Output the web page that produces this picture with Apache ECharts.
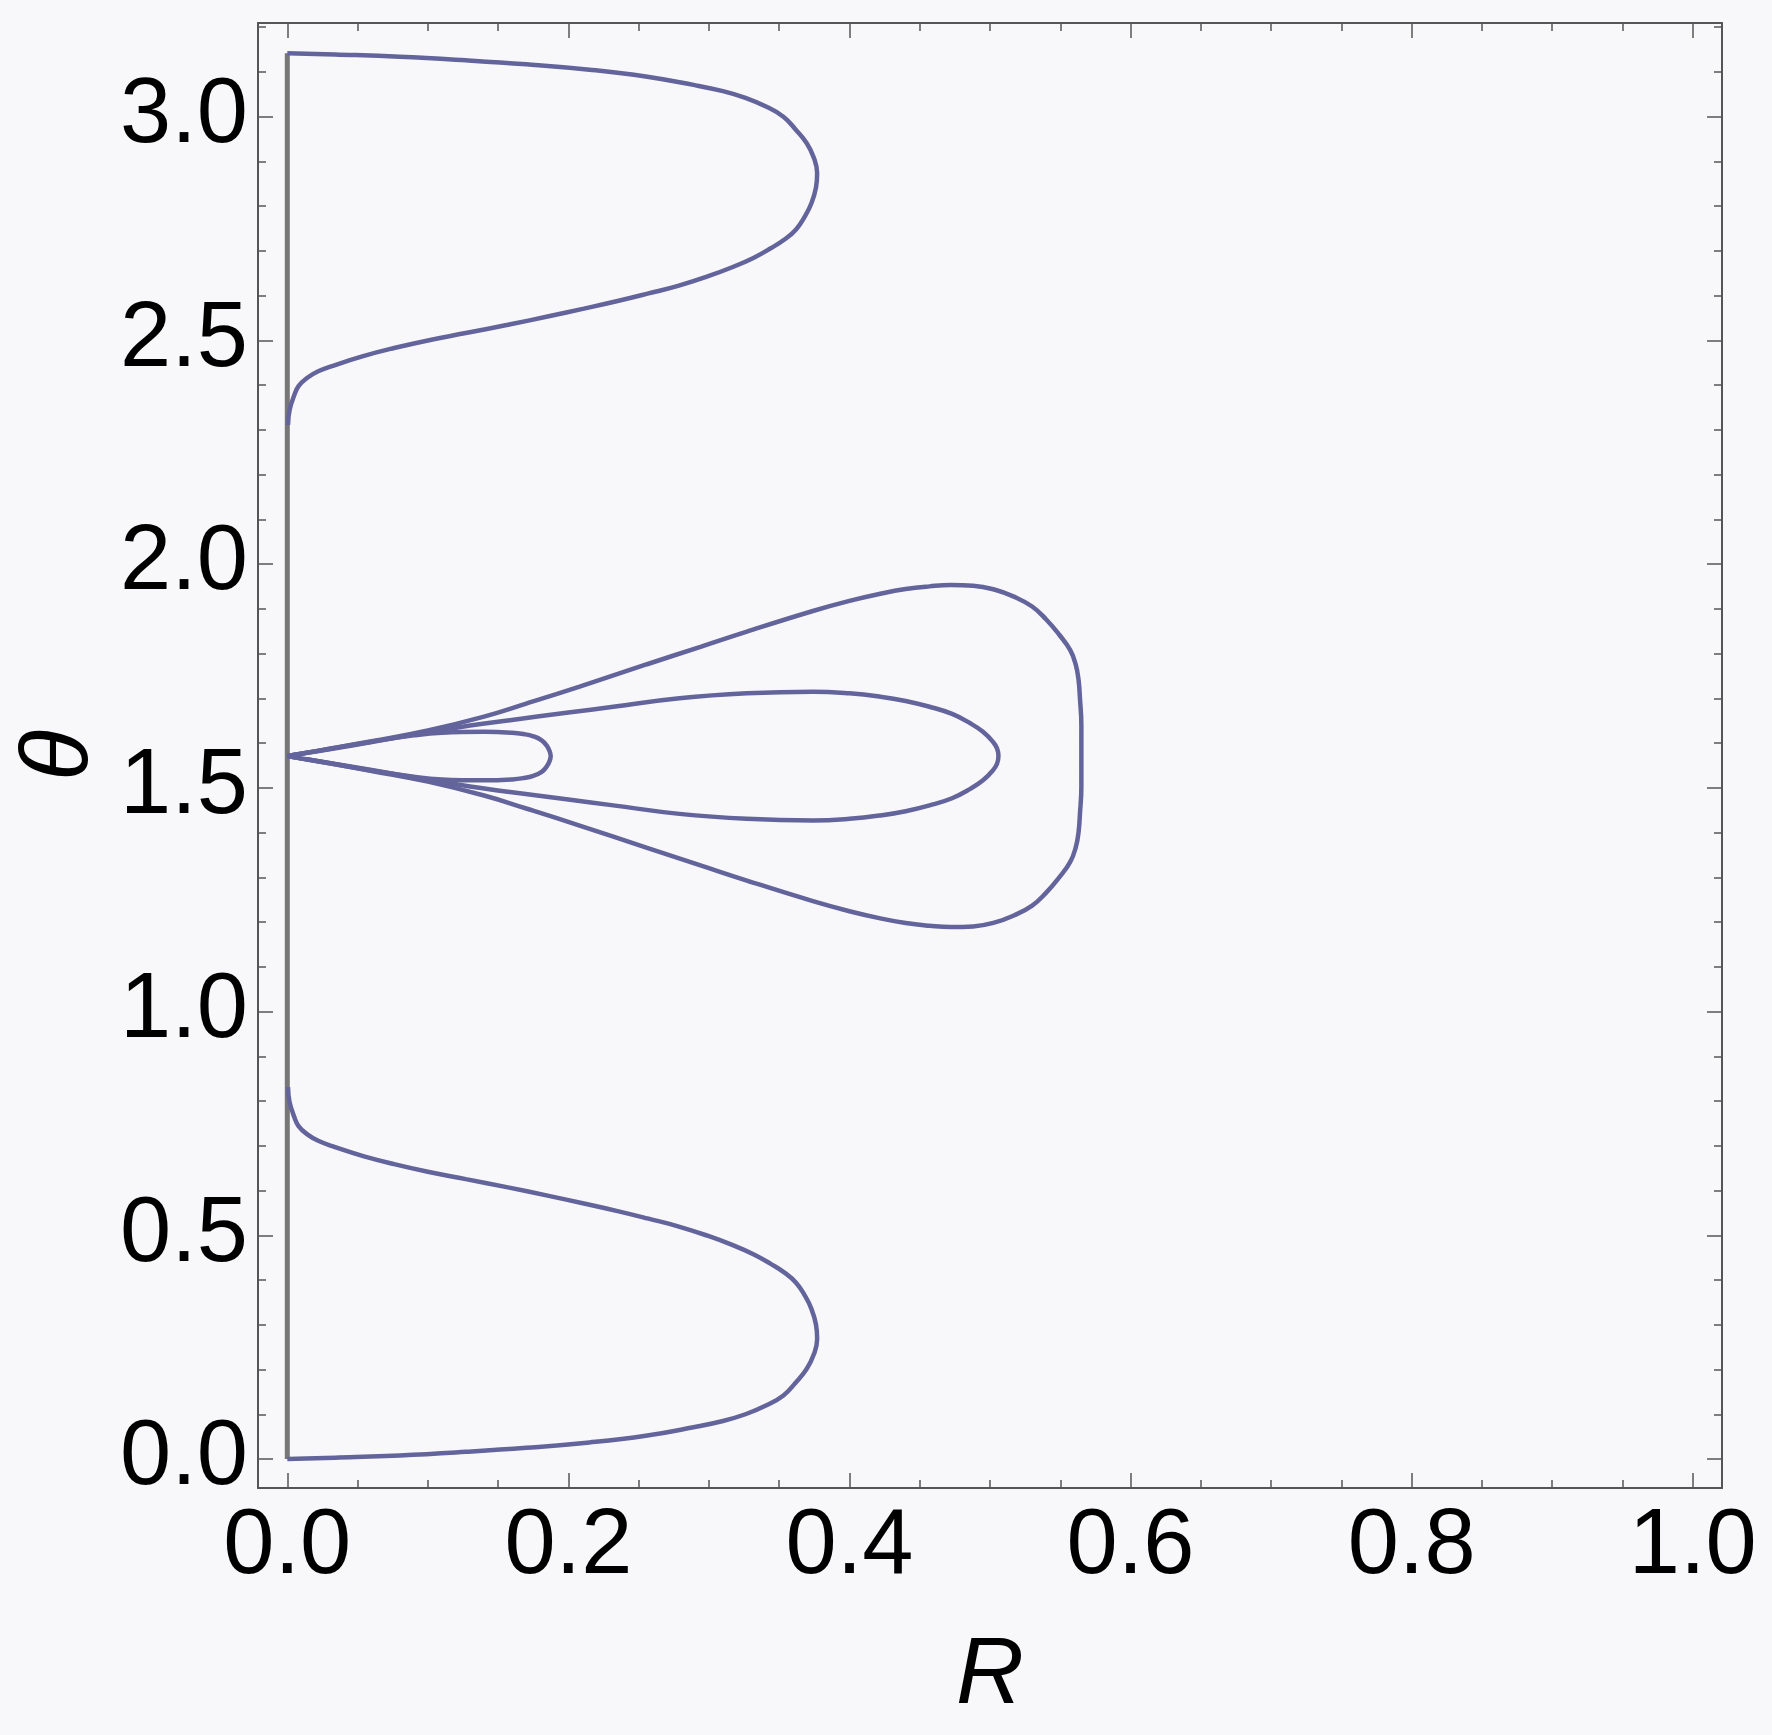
<!DOCTYPE html>
<html>
<head>
<meta charset="utf-8">
<script src="https://cdn.jsdelivr.net/npm/echarts@6/dist/echarts.min.js"></script>
<style>
html,body{margin:0;padding:0;background:#f8f8fa;}
#chart{width:1772px;height:1735px;}
</style>
</head>
<body>
<div id="chart"></div>
<script>
// ---------------- data ----------------
const X_TICK_LABELS = ['0.0','0.2','0.4','0.6','0.8','1.0'];
const Y_TICK_LABELS = ['0.0','0.5','1.0','1.5','2.0','2.5','3.0'];

// vertical contour on R = 0
const R_AXISLINE = [0, 0];
const T_AXISLINE = [0, 3.1416];

// lower lobe
const R_LOW = [0, 0.034, 0.08, 0.127, 0.17, 0.215, 0.255, 0.289, 0.31, 0.326, 0.341, 0.353, 0.3615, 0.3695, 0.3748, 0.377, 0.3762, 0.373, 0.3683, 0.362, 0.354, 0.344, 0.332, 0.317, 0.299, 0.278, 0.257, 0.235, 0.211, 0.186, 0.157, 0.127, 0.10, 0.076, 0.054, 0.034, 0.022, 0.014, 0.008, 0.005, 0.0016, 0.0005];
const T_LOW = [0, 0.003, 0.008, 0.016, 0.025, 0.037, 0.052, 0.071, 0.085, 0.100, 0.12, 0.142, 0.17, 0.201, 0.235, 0.268, 0.30, 0.335, 0.365, 0.394, 0.416, 0.436, 0.457, 0.478, 0.499, 0.520, 0.537, 0.554, 0.571, 0.588, 0.607, 0.6255, 0.642, 0.659, 0.677, 0.697, 0.711, 0.726, 0.744, 0.764, 0.798, 0.831];

// upper lobe
const R_UP = [0, 0.034, 0.08, 0.127, 0.17, 0.215, 0.255, 0.289, 0.31, 0.326, 0.341, 0.353, 0.3615, 0.3695, 0.3748, 0.377, 0.3762, 0.373, 0.3683, 0.362, 0.354, 0.344, 0.332, 0.317, 0.299, 0.278, 0.257, 0.235, 0.211, 0.186, 0.157, 0.127, 0.10, 0.076, 0.054, 0.034, 0.022, 0.014, 0.008, 0.005, 0.0016, 0.0005];
const T_UP = [3.1416, 3.1386, 3.1336, 3.1256, 3.1166, 3.1046, 3.0896, 3.0706, 3.0566, 3.0416, 3.0216, 2.9996, 2.9716, 2.9406, 2.9066, 2.8736, 2.8416, 2.8066, 2.7766, 2.7476, 2.7256, 2.7056, 2.6846, 2.6636, 2.6426, 2.6216, 2.6046, 2.5876, 2.5706, 2.5536, 2.5346, 2.5161, 2.4996, 2.4826, 2.4646, 2.4446, 2.4306, 2.4156, 2.3976, 2.3776, 2.3436, 2.3106];

// outer middle loop
const R_BIG = [0, 0.03, 0.06, 0.10, 0.14, 0.17, 0.208, 0.256, 0.294, 0.327, 0.374, 0.40, 0.422, 0.44, 0.457, 0.472, 0.488, 0.503, 0.517, 0.530, 0.540, 0.549, 0.557, 0.561, 0.563, 0.564, 0.565, 0.565,
               0.565, 0.564, 0.563, 0.561, 0.557, 0.549, 0.540, 0.530, 0.517, 0.503, 0.488, 0.472, 0.457, 0.44, 0.422, 0.40, 0.374, 0.327, 0.294, 0.256, 0.208, 0.17, 0.14, 0.10, 0.06, 0.03, 0];
const T_BIG = [1.5708, 1.587, 1.604, 1.628, 1.659, 1.688, 1.726, 1.776, 1.815, 1.849, 1.895, 1.9175, 1.9335, 1.944, 1.950, 1.953, 1.9515, 1.943, 1.927, 1.905, 1.876, 1.843, 1.808, 1.775, 1.741, 1.70, 1.64, 1.5708,
               1.5016, 1.4416, 1.4006, 1.3666, 1.3336, 1.2986, 1.2656, 1.2366, 1.2146, 1.1986, 1.1901, 1.1886, 1.1916, 1.1976, 1.2081, 1.2241, 1.2466, 1.2926, 1.3266, 1.3656, 1.4156, 1.4536, 1.4826, 1.5136, 1.5376, 1.5546, 1.5708];

// middle loop
const R_MID = [0, 0.03, 0.06, 0.10, 0.13, 0.1585, 0.20, 0.232, 0.279, 0.327, 0.374, 0.40, 0.422, 0.44, 0.457, 0.473, 0.486, 0.495, 0.502, 0.505, 0.506,
               0.505, 0.502, 0.495, 0.486, 0.473, 0.457, 0.44, 0.422, 0.40, 0.374, 0.327, 0.279, 0.232, 0.20, 0.1585, 0.13, 0.10, 0.06, 0.03, 0];
const T_MID = [1.5708, 1.586, 1.602, 1.624, 1.639, 1.651, 1.668, 1.681, 1.700, 1.711, 1.7147, 1.711, 1.7035, 1.694, 1.681, 1.665, 1.644, 1.625, 1.603, 1.588, 1.5708,
               1.5536, 1.5386, 1.5166, 1.4976, 1.4766, 1.4606, 1.4476, 1.4381, 1.4306, 1.4269, 1.4306, 1.4416, 1.4606, 1.4736, 1.4906, 1.5026, 1.5176, 1.5396, 1.5556, 1.5708];

// small inner loop
const R_SMALL = [0, 0.03, 0.06, 0.09, 0.11, 0.14, 0.16, 0.168, 0.175, 0.181, 0.1846, 0.1866, 0.1874,
                 0.1866, 0.1846, 0.181, 0.175, 0.168, 0.16, 0.14, 0.11, 0.09, 0.06, 0.03, 0];
const T_SMALL = [1.5708, 1.587, 1.603, 1.617, 1.623, 1.625, 1.623, 1.620, 1.615, 1.606, 1.594, 1.582, 1.5708,
                 1.5596, 1.5476, 1.5356, 1.5266, 1.5216, 1.5186, 1.5166, 1.5186, 1.5246, 1.5386, 1.5546, 1.5708];

// ---------------- layout ----------------
const FL = 258, FR = 1722, FT = 23, FB = 1488;   // frame
const X0 = 287.3, X1 = 1692.7;                   // pixel of R=0 and R=1
const Y0 = 1459, PY = 447.5;                     // pixel of theta=0, px per unit
const PX = X1 - X0;
const xmin = (FL - X0) / PX, xmax = (FR - X0) / PX;
const ymin = -(FB - Y0) / PY, ymax = (Y0 - FT) / PY;

const FONT = '"Liberation Sans", Arial, Helvetica, sans-serif';
const FRAME = '#555555';
const LINE = '#64649c';

function pts(rs, ts) { return rs.map((r, i) => [r, ts[i]]); }

const frameLine = {show: true, onZero: false, lineStyle: {color: FRAME, width: 2}};
const tickStyle = {color: FRAME, width: 1.5};
const labelStyle = {color: '#000', fontSize: 92, fontFamily: FONT};
const nameStyle = {color: '#000', fontSize: 94, fontStyle: 'italic', fontFamily: FONT};

const chart = echarts.init(document.getElementById('chart'), null, {renderer: 'canvas'});

const curve = (rs, ts) => ({type: 'line', xAxisIndex: 0, yAxisIndex: 0, data: pts(rs, ts), symbol: 'none',
  smooth: 0.45, lineStyle: {color: LINE, width: 4.5}, silent: true});

const option = {
  backgroundColor: '#f8f8fa',
  animation: false,
  grid: [
    {left: FL, top: FT, width: FR - FL, height: FB - FT},
    {left: X0, top: Y0 - 3 * PY, width: PX, height: 3 * PY},
    {left: X0, top: Y0 - 3.2 * PY, width: PX, height: 3.2 * PY}
  ],
  xAxis: [
    {gridIndex: 0, type: 'value', min: xmin, max: xmax, position: 'bottom',
     axisLine: frameLine, axisTick: {show: false}, axisLabel: {show: false}, splitLine: {show: false},
     name: 'R', nameLocation: 'middle', nameGap: 142, nameTextStyle: nameStyle},
    {gridIndex: 0, type: 'value', min: xmin, max: xmax, position: 'top',
     axisLine: frameLine, axisTick: {show: false}, axisLabel: {show: false}, splitLine: {show: false}},
    {gridIndex: 1, type: 'value', min: 0, max: 1, interval: 0.2, position: 'bottom', offset: FB - Y0,
     axisLine: {show: false, onZero: false},
     axisTick: {show: true, inside: true, length: 15, lineStyle: tickStyle},
     minorTick: {show: true, splitNumber: 4, length: 8, lineStyle: tickStyle},
     axisLabel: Object.assign({show: true, margin: 14, formatter: v => X_TICK_LABELS[Math.round(v / 0.2)]}, labelStyle),
     splitLine: {show: false}, minorSplitLine: {show: false}},
    {gridIndex: 1, type: 'value', min: 0, max: 1, interval: 0.2, position: 'top', offset: (Y0 - 3 * PY) - FT,
     axisLine: {show: false, onZero: false},
     axisTick: {show: true, inside: true, length: 15, lineStyle: tickStyle},
     minorTick: {show: true, splitNumber: 4, length: 8, lineStyle: tickStyle},
     axisLabel: {show: false}, splitLine: {show: false}, minorSplitLine: {show: false}},
    {gridIndex: 2, type: 'value', min: 0, max: 1, show: false}
  ],
  yAxis: [
    {gridIndex: 0, type: 'value', min: ymin, max: ymax, position: 'left',
     axisLine: frameLine, axisTick: {show: false}, axisLabel: {show: false}, splitLine: {show: false},
     name: '\u03B8', nameLocation: 'middle', nameGap: 150, nameRotate: 90, nameTextStyle: nameStyle},
    {gridIndex: 0, type: 'value', min: ymin, max: ymax, position: 'right',
     axisLine: frameLine, axisTick: {show: false}, axisLabel: {show: false}, splitLine: {show: false}},
    {gridIndex: 1, type: 'value', min: 0, max: 3, interval: 0.5, position: 'left', offset: X0 - FL,
     axisLine: {show: false, onZero: false},
     axisTick: {show: true, inside: true, length: 15, lineStyle: tickStyle},
     axisLabel: Object.assign({show: true, margin: 10, formatter: v => Y_TICK_LABELS[Math.round(v / 0.5)]}, labelStyle),
     splitLine: {show: false}},
    {gridIndex: 1, type: 'value', min: 0, max: 3, interval: 0.5, position: 'right', offset: FR - X1,
     axisLine: {show: false, onZero: false},
     axisTick: {show: true, inside: true, length: 15, lineStyle: tickStyle},
     axisLabel: {show: false}, splitLine: {show: false}},
    {gridIndex: 2, type: 'value', min: 0, max: 3.2, interval: 0.1, position: 'left', offset: X0 - FL,
     axisLine: {show: false, onZero: false},
     axisTick: {show: true, inside: true, length: 8, lineStyle: tickStyle},
     axisLabel: {show: false}, splitLine: {show: false}},
    {gridIndex: 2, type: 'value', min: 0, max: 3.2, interval: 0.1, position: 'right', offset: FR - X1,
     axisLine: {show: false, onZero: false},
     axisTick: {show: true, inside: true, length: 8, lineStyle: tickStyle},
     axisLabel: {show: false}, splitLine: {show: false}}
  ],
  series: [
    {type: 'line', xAxisIndex: 0, yAxisIndex: 0, data: pts(R_AXISLINE, T_AXISLINE), symbol: 'none',
     lineStyle: {color: '#777777', width: 5}, silent: true},
    curve(R_LOW, T_LOW),
    curve(R_UP, T_UP),
    curve(R_BIG, T_BIG),
    curve(R_MID, T_MID),
    curve(R_SMALL, T_SMALL)
  ]
};
chart.setOption(option);
</script>
</body>
</html>
